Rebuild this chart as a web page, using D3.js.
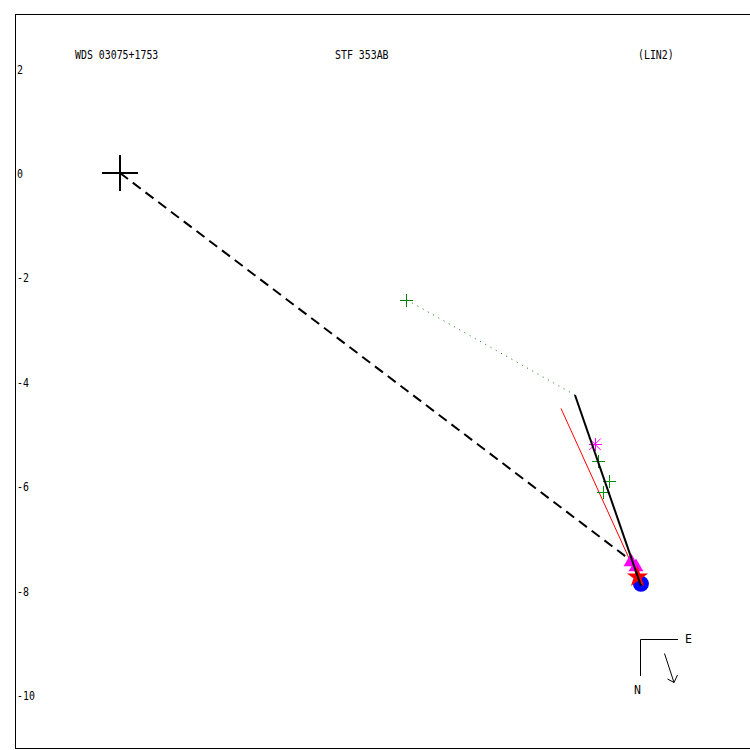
<!DOCTYPE html>
<html lang="en">
<head>
<meta charset="UTF-8">
<title>WDS 03075+1753</title>
<style>
body { margin: 0; background: #fff; }
text { font-family: 'DejaVu Sans Mono', monospace; font-size: 11.5px; fill: #000; }
line { shape-rendering: crispEdges; }
</style>
</head>
<body>
<div id="chart"></div>
<script src="https://cdnjs.cloudflare.com/ajax/libs/d3/7.8.5/d3.min.js"></script>
<script>

// orbit plot data, arcsec relative to primary
var yTicks = [2, 0, -2, -4, -6, -8, -10];
var primary = [0, 0];
var dashedEnd = [9.81, -7.44];
var orbitLine = [[8.716, -4.253], [9.98, -7.91]];
var redLine = [[8.448, -4.51], [9.914, -7.739]];
var dottedLine = [[5.498, -2.433], [8.716, -4.253]];
var greyCross = [5.498, -2.433];
var greenCrosses = [[9.163, -5.531], [9.374, -5.914], [9.259, -6.117]];
var asterisks = [[9.10, -5.197]];
var triangles = [[9.79, -7.45], [9.885, -7.548]];
var stars = [[9.914, -7.739]];
var circles = [[9.98, -7.87]];
var titles = ["WDS 03075+1753", "STF 353AB", "(LIN2)"];

var width = 750, height = 750;

var x = d3.scaleLinear().domain([0, 10]).range([120, 642]);
var y = d3.scaleLinear().domain([0, -10]).range([173, 695]);

var svg = d3.select('#chart')
  .append('svg')
  .attr('width', width)
  .attr('height', height);

// frame
svg.append('rect')
  .attr('x', 15.5).attr('y', 14.5)
  .attr('width', 745).attr('height', 734)
  .attr('fill', 'none').attr('stroke', '#000').attr('stroke-width', 1);

// titles
var titleX = [75, 335, 638];
svg.selectAll('.title')
  .data(titles)
  .enter().append('text')
  .attr('class', 'title')
  .attr('x', function (d, i) { return titleX[i]; })
  .attr('y', 59)
  .attr('textLength', function (d) { return d.length * 5.95; })
  .attr('lengthAdjust', 'spacingAndGlyphs')
  .text(function (d) { return d; });

// y tick labels
svg.selectAll('.tick')
  .data(yTicks)
  .enter().append('text')
  .attr('class', 'tick')
  .attr('x', 17)
  .attr('y', function (d) { return y(d) + 5; })
  .attr('textLength', function (d) { return String(d).length * 5.95; })
  .attr('lengthAdjust', 'spacingAndGlyphs')
  .text(function (d) { return d; });

var line = d3.line()
  .x(function (d) { return x(d[0]); })
  .y(function (d) { return y(d[1]); });

// dashed line primary -> position
svg.append('path')
  .attr('d', line([primary, dashedEnd]))
  .attr('stroke', '#000').attr('stroke-width', 2)
  .attr('stroke-dasharray', '10,6').attr('fill', 'none');

// dotted green line
svg.append('path')
  .attr('d', line(dottedLine))
  .attr('stroke', '#008000').attr('stroke-width', 1)
  .attr('stroke-dasharray', '1,5').attr('fill', 'none');

// red line
svg.append('path')
  .attr('d', line(redLine))
  .attr('stroke', '#ff0000').attr('stroke-width', 1).attr('fill', 'none');

function cross(g, p, r, color, w) {
  g.append('line')
    .attr('x1', x(p[0]) - r).attr('x2', x(p[0]) + r)
    .attr('y1', y(p[1])).attr('y2', y(p[1]))
    .attr('stroke', color).attr('stroke-width', w);
  g.append('line')
    .attr('x1', x(p[0])).attr('x2', x(p[0]))
    .attr('y1', y(p[1]) - r).attr('y2', y(p[1]) + r)
    .attr('stroke', color).attr('stroke-width', w);
}
cross(svg, primary, 18, '#000', 2);
cross(svg, greyCross, 6.5, '#008000', 1);

greenCrosses.forEach(function (p) { cross(svg, p, 6.5, '#009000', 1); });

asterisks.forEach(function (p) {
  cross(svg, p, 6.5, '#ff00ff', 1);
  svg.append('path')
    .attr('d', d3.symbol().type(d3.symbolX).size(90)())
    .attr('transform', 'translate(' + x(p[0]) + ',' + y(p[1]) + ')')
    .attr('stroke', '#ff00ff').attr('stroke-width', 1).attr('fill', 'none');
});

svg.selectAll('.tri')
  .data(triangles)
  .enter().append('path')
  .attr('class', 'tri')
  .attr('d', d3.symbol().type(d3.symbolTriangle).size(95))
  .attr('transform', function (d) { return 'translate(' + x(d[0]) + ',' + y(d[1]) + ')'; })
  .attr('fill', '#ff00ff');

svg.selectAll('.circ')
  .data(circles)
  .enter().append('circle')
  .attr('class', 'circ')
  .attr('cx', function (d) { return x(d[0]); })
  .attr('cy', function (d) { return y(d[1]); })
  .attr('r', 8)
  .attr('fill', '#0000ff');

svg.selectAll('.star')
  .data(stars)
  .enter().append('path')
  .attr('class', 'star')
  .attr('d', d3.symbol().type(d3.symbolStar).size(140))
  .attr('transform', function (d) { return 'translate(' + x(d[0]) + ',' + y(d[1]) + ')'; })
  .attr('fill', '#ff0000');

// orbit segment (drawn on top)
svg.append('path')
  .attr('d', line(orbitLine))
  .attr('stroke', '#000').attr('stroke-width', 2).attr('fill', 'none');

// compass
var comp = svg.append('g');
comp.append('path')
  .attr('d', 'M678,639.5H640.5V676')
  .attr('stroke', '#000').attr('stroke-width', 1).attr('fill', 'none');
comp.append('text').attr('x', 685).attr('y', 643).text('E');
comp.append('text').attr('x', 634).attr('y', 694).text('N');
comp.append('path')
  .attr('d', 'M664.5,653.5L674,682.5M667.5,679L674,682.5L677.5,675')
  .attr('stroke', '#000').attr('stroke-width', 1).attr('fill', 'none');

</script>
</body>
</html>
